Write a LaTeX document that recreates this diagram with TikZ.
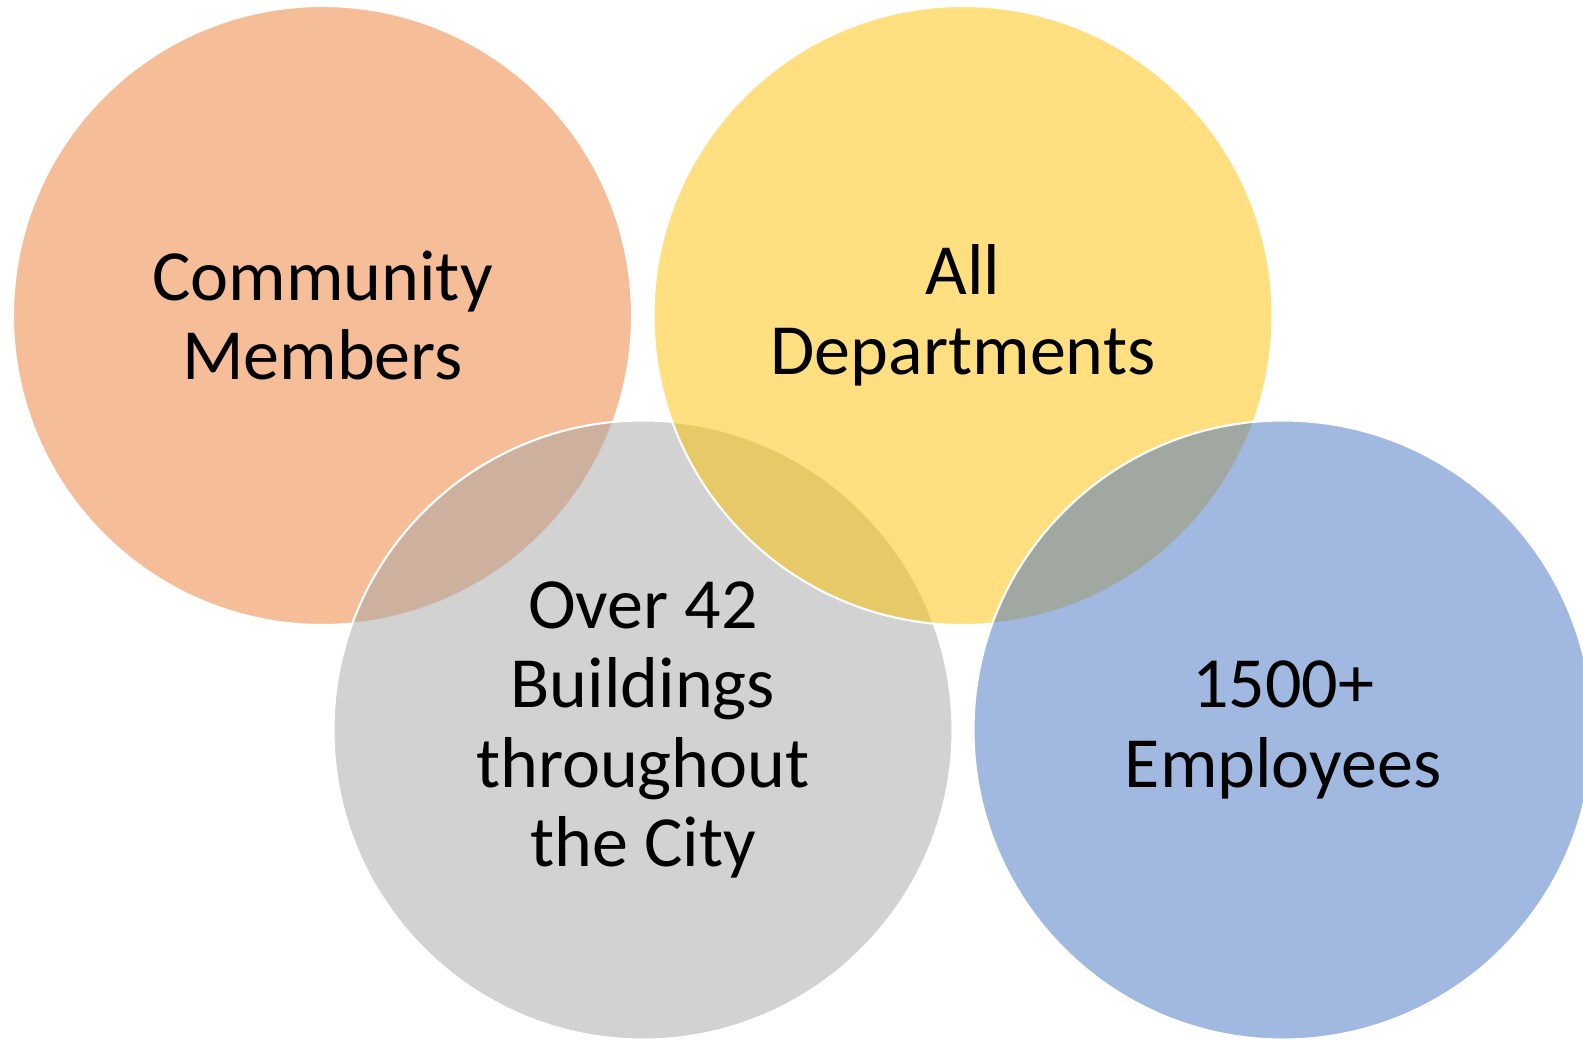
\documentclass[tikz,border=0pt]{standalone}
\usepackage{fontspec}
\setmainfont{Carlito}
\usepackage{tikz}
\usepackage{xcolor}
\usetikzlibrary{positioning}
\definecolor{Naranja}{RGB}{237,125,49}
\definecolor{Gris}{RGB}{165,165,165}
\definecolor{Amarillo}{RGB}{255,192,0}
\definecolor{Azul}{RGB}{68,114,196}

\begin{document}
\begin{tikzpicture}[
  bubble/.style={
    circle, draw=white, line width=0.6pt,
    fill opacity=0.5, text opacity=1,
    minimum size=6.19cm, inner sep=0pt,
    align=center, text=black,
    font=\fontsize{20.5}{22.6}\selectfont
  }
]
\useasboundingbox (0,0) rectangle (15.83,-10.39);

\node[bubble, fill=Naranja] (comunidad) at (3.225,-3.155)
  {Community\\ Members};
\node[bubble, fill=Gris] (edificios) at (6.43,-7.30)
  {Over 42\\ Buildings\\ throughout\\ the City};
\node[bubble, fill=Amarillo] (deptos) at (9.63,-3.155)
  {All\\ Departments};
\node[bubble, fill=Azul] (empleados) at (12.83,-7.30)
  {1500+\\ Employees};

\end{tikzpicture}
\end{document}
